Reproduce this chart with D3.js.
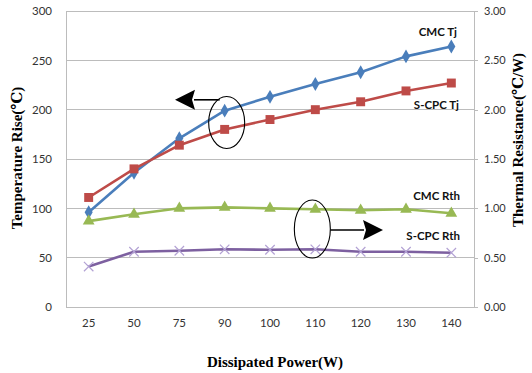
<!DOCTYPE html>
<html>
<head>
<meta charset="utf-8">
<script src="https://cdn.jsdelivr.net/npm/d3@7"></script>
<style>
  html, body { margin: 0; padding: 0; background: #fff; }
  svg { display: block; }
</style>
</head>
<body>
<svg id="chart" width="532" height="373"></svg>
<script>
// Dissipated power categories (W)
const powers = ["25", "50", "75", "90", "100", "110", "120", "130", "140"];

// Junction temperature rise (°C), left axis
const cmcTj  = [96, 136, 171, 199, 213, 226, 238, 254, 264];
const scpcTj = [111, 140, 164, 180, 190, 200, 208, 219, 227];

// Thermal resistance (°C/W), right axis
const cmcRth  = [0.87, 0.94, 1.00, 1.01, 1.00, 0.99, 0.98, 0.99, 0.95];
const scpcRth = [0.41, 0.56, 0.57, 0.585, 0.58, 0.585, 0.56, 0.56, 0.55];

const leftTicks  = [0, 50, 100, 150, 200, 250, 300];
const rightTicks = [0, 0.5, 1.0, 1.5, 2.0, 2.5, 3.0];

const svg = d3.select("#chart");
const plot = { left: 66, right: 474, top: 11, bottom: 307 };

const x = d3.scaleBand().domain(powers).range([plot.left, plot.right]);
const yL = d3.scaleLinear().domain([0, 300]).range([plot.bottom, plot.top]);
const yR = d3.scaleLinear().domain([0, 3]).range([plot.bottom, plot.top]);
const cx = d => x(d) + x.bandwidth() / 2;

const tickFont = "Lato, 'Open Sans', sans-serif";
const gridColor = "#bcbcbc";

// Horizontal gridlines
svg.append("g")
  .selectAll("line")
  .data(leftTicks.filter(t => t > 0))
  .join("line")
  .attr("x1", plot.left).attr("x2", plot.right)
  .attr("y1", d => yL(d)).attr("y2", d => yL(d))
  .attr("stroke", gridColor).attr("stroke-width", 1)
  .attr("shape-rendering", "crispEdges");

// Left axis
const gLeft = svg.append("g")
  .attr("transform", `translate(${plot.left},0)`)
  .call(d3.axisLeft(yL).tickValues(leftTicks).tickSize(0).tickPadding(14));
gLeft.select(".domain").attr("stroke", gridColor).attr("shape-rendering", "crispEdges");
gLeft.selectAll("text").attr("font-family", tickFont).attr("font-size", 11.5).attr("fill", "#333");

// Right axis
const gRight = svg.append("g")
  .attr("transform", `translate(${plot.right},0)`)
  .call(d3.axisRight(yR).tickValues(rightTicks).tickFormat(d3.format(".2f")).tickSize(4).tickPadding(6));
gRight.select(".domain").attr("stroke", gridColor).attr("shape-rendering", "crispEdges");
gRight.selectAll(".tick line").attr("stroke", gridColor).attr("shape-rendering", "crispEdges");
gRight.selectAll("text").attr("font-family", tickFont).attr("font-size", 11).attr("fill", "#333");

// Bottom axis
const gBottom = svg.append("g")
  .attr("transform", `translate(0,${plot.bottom})`)
  .call(d3.axisBottom(x).tickSize(0).tickPadding(12));
gBottom.select(".domain").attr("stroke", gridColor).attr("shape-rendering", "crispEdges");
gBottom.selectAll("text").attr("font-family", tickFont).attr("font-size", 11.5).attr("fill", "#333");

// Axis titles
const titleFont = "'Liberation Serif', 'DejaVu Serif', serif";
svg.append("text")
  .attr("x", (plot.left + plot.right) / 2 + 5).attr("y", 367)
  .attr("text-anchor", "middle")
  .attr("font-family", titleFont).attr("font-weight", "bold").attr("font-size", 15)
  .text("Dissipated Power(W)");
svg.append("text")
  .attr("transform", "translate(22,158) rotate(-90)")
  .attr("text-anchor", "middle")
  .attr("font-family", titleFont).attr("font-weight", "bold").attr("font-size", 15)
  .text("Temperature Rise(℃)");
svg.append("text")
  .attr("transform", "translate(523,140) rotate(-90)")
  .attr("text-anchor", "middle")
  .attr("font-family", titleFont).attr("font-weight", "bold").attr("font-size", 15)
  .text("Thermal Resistance(℃/W)");

// Series
const series = [
  { name: "CMC Tj",    values: cmcTj,   y: yL, color: "#4a7ebb", marker: d3.symbolDiamond,  size: 56,  mColor: "#4a7ebb" },
  { name: "S-CPC Tj",  values: scpcTj,  y: yL, color: "#be4b48", marker: d3.symbolSquare,   size: 80,  mColor: "#be4b48" },
  { name: "CMC Rth",   values: cmcRth,  y: yR, color: "#98b954", marker: d3.symbolTriangle, size: 60,  mColor: "#98b954" },
  { name: "S-CPC Rth", values: scpcRth, y: yR, color: "#7d60a0", marker: d3.symbolX,        size: 60,  mColor: "#b3a2d4" }
];

series.forEach(s => {
  const pts = s.values.map((v, i) => [cx(powers[i]), s.y(v)]);
  svg.append("path")
    .attr("d", d3.line()(pts))
    .attr("fill", "none")
    .attr("stroke", s.color)
    .attr("stroke-width", 2.6)
    .attr("stroke-linejoin", "round");
  const g = svg.append("g");
  g.selectAll("path")
    .data(pts)
    .join("path")
    .attr("transform", d => `translate(${d[0]},${d[1]})`)
    .attr("d", d3.symbol(s.marker, s.size)())
    .attr("fill", s.marker === d3.symbolX ? "none" : s.mColor)
    .attr("stroke", s.marker === d3.symbolX ? s.mColor : "none")
    .attr("stroke-width", 1.2);
});

// Series labels
const labelFont = "Lato, 'Open Sans', sans-serif";
const labels = [
  { text: "CMC Tj",    x: 457, y: 36 },
  { text: "S-CPC Tj",  x: 459, y: 109 },
  { text: "CMC Rth",   x: 460, y: 200 },
  { text: "S-CPC Rth", x: 460, y: 240 }
];
svg.append("g")
  .selectAll("text")
  .data(labels)
  .join("text")
  .attr("x", d => d.x).attr("y", d => d.y)
  .attr("text-anchor", "end")
  .attr("font-family", labelFont).attr("font-weight", "bold").attr("font-size", 11.5)
  .attr("fill", "#111")
  .text(d => d.text);

// Annotation: ellipse around the Tj curves with arrow pointing to the left axis
const ann = svg.append("g").attr("fill", "none").attr("stroke", "#000").attr("stroke-width", 1.1);
const e1 = { cx: cx("90") + 2, cy: yL(187), rx: 18, ry: 26 };
ann.append("ellipse").attr("cx", e1.cx).attr("cy", e1.cy).attr("rx", e1.rx).attr("ry", e1.ry);
ann.append("line").attr("x1", e1.cx - 7).attr("x2", 194).attr("y1", yL(210)).attr("y2", yL(210)).attr("stroke-width", 1.6);
svg.append("path")
  .attr("d", d3.line()([[175, yL(210)], [195, yL(210) - 10], [192, yL(210)], [195, yL(210) + 10]]) + "Z")
  .attr("fill", "#000");

// Annotation: ellipse around the Rth curves with arrow pointing to the right axis
const e2 = { cx: cx("110") - 3, cy: yR(0.79), rx: 18, ry: 29 };
ann.append("ellipse").attr("cx", e2.cx).attr("cy", e2.cy).attr("rx", e2.rx).attr("ry", e2.ry);
const ay = yR(0.78);
ann.append("line").attr("x1", e2.cx + e2.rx).attr("x2", 364).attr("y1", ay).attr("y2", ay).attr("stroke-width", 1.6);
svg.append("path")
  .attr("d", d3.line()([[383, ay], [363, ay - 10], [366, ay], [363, ay + 10]]) + "Z")
  .attr("fill", "#000");
</script>
</body>
</html>
